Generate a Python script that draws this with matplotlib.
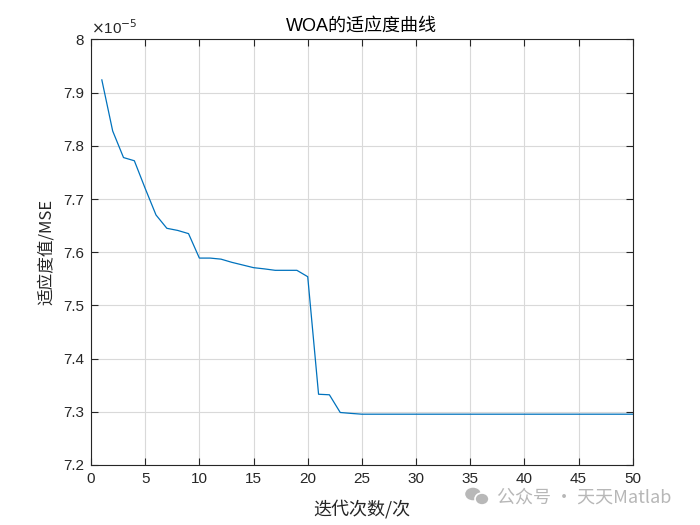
import matplotlib
matplotlib.use("Agg")
import matplotlib.pyplot as plt
from matplotlib.patches import Ellipse
import numpy as np

plt.rcParams['font.family'] = ['Liberation Sans', 'Noto Sans CJK SC', 'DejaVu Sans']

iterations = list(range(1, 51))
fitness = [7.924, 7.828, 7.778, 7.772, 7.720, 7.670, 7.645, 7.641, 7.635, 7.589,
           7.589, 7.587, 7.581, 7.576, 7.571, 7.5687, 7.566, 7.566, 7.566, 7.554,
           7.333, 7.332, 7.2987, 7.297] + [7.2955] * 26
scale_exp = -5
xticks = list(range(0, 51, 5))
yticks = [7.2, 7.3, 7.4, 7.5, 7.6, 7.7, 7.8, 7.9, 8.0]
ytick_labels = ['7.2', '7.3', '7.4', '7.5', '7.6', '7.7', '7.8', '7.9', '8']

fig = plt.figure(figsize=(7, 5.25), dpi=100)
ax = fig.add_axes([0.130, 0.1143, 0.774, 0.8105])

ax.plot(iterations, fitness, color='#0072BD', lw=0.9)

ax.set_xlim(0, 50)
ax.set_ylim(7.2, 8.0)
ax.set_xticks(xticks)
ax.set_yticks(yticks)
ax.set_yticklabels(ytick_labels)

axcol = '#262626'
for s in ax.spines.values():
    s.set_color(axcol)
    s.set_linewidth(0.8)
ax.tick_params(direction='in', top=True, right=True, length=5, width=0.8,
               colors=axcol, labelsize=11, labelcolor=axcol, pad=5)
ax.grid(True, color='#d9d9d9', lw=0.8)
ax.set_axisbelow(True)

ax.text(0.0, 1.005, r'$\times$10$^{-5}$', transform=ax.transAxes, fontsize=11,
        color=axcol, ha='left', va='bottom')

ax.set_title('WOA的适应度曲线', fontsize=13, color='black', pad=6,
             family=['Liberation Sans', 'Noto Sans CJK SC'])
ax.set_xlabel('迭代次数/次', fontsize=13, color=axcol,
              family=['Noto Sans CJK SC', 'Liberation Sans'], labelpad=10)
ax.set_ylabel('适应度值/MSE', fontsize=12, color=axcol,
              family=['Noto Sans CJK SC', 'Liberation Sans'], labelpad=6)

# watermark icon + text
fig.patches.append(Ellipse((473/700, 1 - 494/525), 17/700, 14/525, transform=fig.transFigure,
                           facecolor='#b8b8b8', edgecolor='white', lw=1, zorder=5))
fig.patches.append(Ellipse((482/700, 1 - 499/525), 14/700, 12/525, transform=fig.transFigure,
                           facecolor='#b8b8b8', edgecolor='white', lw=1.2, zorder=6))
fig.text(0.71, 0.053, '公众号 · 天天Matlab', fontsize=13, color='#b0b0b0',
         family=['Noto Sans CJK SC', 'DejaVu Sans'], ha='left', va='center', alpha=0.9)

fig.savefig('out.png', dpi=100, facecolor='white')
